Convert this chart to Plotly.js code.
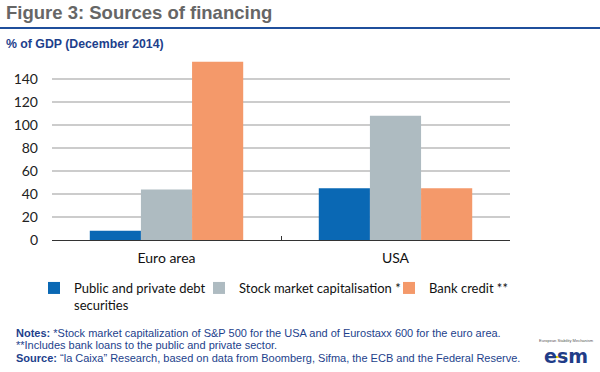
<!DOCTYPE html>
<html>
<head>
<meta charset="utf-8">
<script src="https://cdn.plot.ly/plotly-3.0.1.min.js"></script>
<style>html,body{margin:0;padding:0;background:#fff;}#chart{width:600px;height:372px;}</style>
</head>
<body>
<div id="chart"></div>
<script>
const categories = ["Euro area", "USA"];
const seriesNames = ["Public and private debt<br>securities", "Stock market capitalisation *", "Bank credit **"];
const debtSecurities = [8, 45];
const stockMarketCap = [44, 108];
const bankCredit = [155, 45];
const yTickValues = [0, 20, 40, 60, 80, 100, 120, 140];

const W = 600, H = 372, L = 52, R = 90, T = 56, B = 132;
const PW = W - L - R, PH = H - T - B;
const px = x => (x - L) / PW;
const py = y => (H - B - y) / PH;

const legendFont = {family: "Lato, 'Open Sans', sans-serif", size: 13, color: "#111"};
const colors = ["#0a68b4", "#aebbc1", "#f4996a"];
const values = [debtSecurities, stockMarketCap, bankCredit];
const legends = ["legend", "legend2", "legend3"];

const traces = values.map((v, i) => ({
  type: "bar", x: categories, y: v, name: seriesNames[i],
  marker: {color: colors[i], line: {width: 0}},
  legend: legends[i], hoverinfo: "skip"
}));

function legendAt(xPix, yPix) {
  return {x: px(xPix), y: py(yPix), xanchor: "left", yanchor: "top",
    orientation: "h", font: legendFont, bgcolor: "rgba(0,0,0,0)",
    valign: "top", itemwidth: 30, tracegroupgap: 0};
}

const noteFont = {family: "Arial, 'Liberation Sans', sans-serif", size: 11, color: "#1d3f8c"};

const layout = {
  width: W, height: H,
  margin: {l: L, r: R, t: T, b: B, pad: 0},
  paper_bgcolor: "#fff", plot_bgcolor: "#fff",
  barmode: "group", bargap: 0.33, bargroupgap: 0,
  showlegend: true,
  legend: legendAt(34, 273),
  legend2: legendAt(199, 273),
  legend3: legendAt(389, 273),
  xaxis: {
    type: "category", range: [-0.5, 1.5], tickson: "boundaries",
    ticks: "inside", ticklen: 4, tickcolor: "#333", tickwidth: 1,
    showline: true, linecolor: "#333", linewidth: 1,
    showgrid: false, zeroline: false, fixedrange: true,
    ticklabelstandoff: 5,
    tickfont: {family: "Lato, 'Open Sans', sans-serif", size: 14, color: "#111"}
  },
  yaxis: {
    range: [0, 160], tickmode: "array", tickvals: yTickValues,
    ticks: "", showline: false, zeroline: false,
    showgrid: true, gridcolor: "#cccccc", gridwidth: 1.2,
    ticklabelstandoff: 13, fixedrange: true,
    tickfont: {family: "Lato, 'Open Sans', sans-serif", size: 14, color: "#222"}
  },
  shapes: [
    {type: "line", xref: "paper", yref: "paper", x0: px(0), x1: px(600), y0: py(28), y1: py(28),
     line: {color: "#1f4f9c", width: 2}},
    {type: "line", xref: "paper", yref: "paper", x0: px(548), x1: px(565), y0: py(357), y1: py(357),
     line: {color: "#f2d200", width: 2}}
  ],
  annotations: [
    {text: "<b>Figure 3: Sources of financing</b>", xref: "paper", yref: "paper",
     x: px(4), y: py(13), xanchor: "left", yanchor: "middle", showarrow: false,
     font: {family: "Arial, 'Liberation Sans', sans-serif", size: 18.5, color: "#666"}},
    {text: "<b>% of GDP (December 2014)</b>", xref: "paper", yref: "paper",
     x: px(4), y: py(44), xanchor: "left", yanchor: "middle", showarrow: false,
     font: {family: "Arial, 'Liberation Sans', sans-serif", size: 12.3, color: "#1d3f8c"}},
    {text: "<b>Notes:</b> *Stock market capitalization of S&P 500 for the USA and of Eurostaxx 600 for the euro area.",
     xref: "paper", yref: "paper", x: px(14), y: py(333), xanchor: "left", yanchor: "middle",
     showarrow: false, font: noteFont},
    {text: "**Includes bank loans to the public and private sector.",
     xref: "paper", yref: "paper", x: px(14), y: py(345), xanchor: "left", yanchor: "middle",
     showarrow: false, font: noteFont},
    {text: "<b>Source:</b> “la Caixa” Research, based on data from Boomberg, Sifma, the ECB and the Federal Reserve.",
     xref: "paper", yref: "paper", x: px(14), y: py(358), xanchor: "left", yanchor: "middle",
     showarrow: false, font: noteFont},
    {text: "European Stability Mechanism", xref: "paper", yref: "paper",
     x: px(566), y: py(340), xanchor: "center", yanchor: "middle", showarrow: false,
     font: {family: "Arial, 'Liberation Sans', sans-serif", size: 4, color: "#555"}},
    {text: "<b>esm</b>", xref: "paper", yref: "paper",
     x: px(566), y: py(356), xanchor: "center", yanchor: "middle", showarrow: false,
     font: {family: "'DejaVu Sans', sans-serif", size: 19, color: "#1f3c88"}}
  ]
};

Plotly.newPlot("chart", traces, layout, {displayModeBar: false, staticPlot: true});
</script>
</body>
</html>
